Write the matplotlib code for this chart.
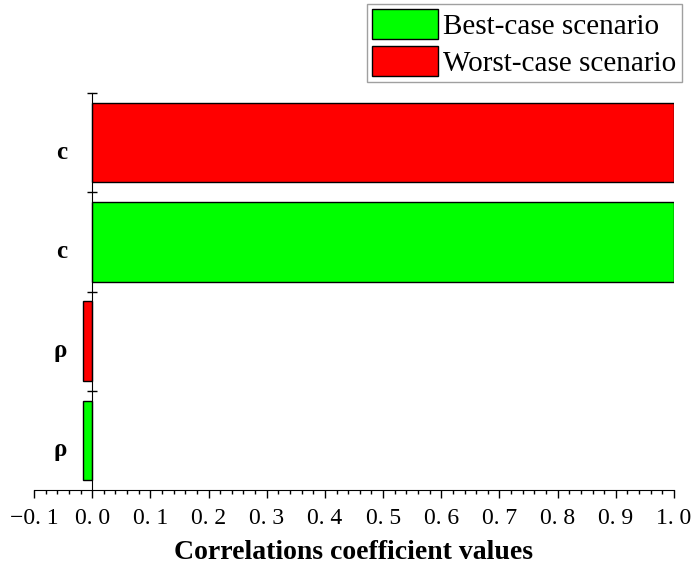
import numpy as np
import matplotlib.pyplot as plt
import matplotlib.ticker as mtick
from matplotlib.patches import Patch

params = ['ρ', 'c']
best_case = [-0.016, 1.0]
worst_case = [-0.016, 1.0]
labels = ['Best-case scenario', 'Worst-case scenario']
colors = ['#00ff00', '#ff0000']

plt.rcParams['font.family'] = ['Liberation Serif', 'DejaVu Serif']

fig = plt.figure(figsize=(6.92, 5.69), dpi=100)
ax = fig.add_axes([34 / 692, 1 - 490 / 569, 640 / 692, 397 / 569])

# each parameter gets two rows: best case below, worst case above
pos_best = np.arange(len(params)) * 2 + 0.5
pos_worst = pos_best + 1
ax.barh(pos_best, best_case, height=0.8, color=colors[0], edgecolor='black', linewidth=1)
ax.barh(pos_worst, worst_case, height=0.8, color=colors[1], edgecolor='black', linewidth=1)

ax.set_xlim(-0.1, 1.0)
ax.set_ylim(0, 2 * len(params))

ax.spines['left'].set_position(('data', 0))
ax.spines['top'].set_visible(False)
ax.spines['right'].set_visible(False)

ypos = np.sort(np.concatenate([pos_best, pos_worst]))
ylabels = [p for p in params for _ in range(2)]
ax.set_yticks(ypos - 0.07)
ax.set_yticklabels(ylabels, fontweight='bold', fontsize=18)
ax.yaxis.set_minor_locator(mtick.FixedLocator(np.arange(1, 2 * len(params) + 1)))
ax.tick_params(axis='y', which='major', length=0, pad=18)
ax.tick_params(axis='y', which='minor', direction='inout', length=7, width=1)

ax.set_xticks(np.arange(-0.1, 1.01, 0.1))
ax.xaxis.set_major_formatter(mtick.FuncFormatter(lambda v, p: ('%.1f' % v).replace('-', '\u2212').replace('.', '. ')))
ax.xaxis.set_minor_locator(mtick.MultipleLocator(0.02))
ax.tick_params(axis='x', which='major', direction='out', length=6, width=1, labelsize=17, pad=7)
ax.tick_params(axis='x', which='minor', direction='out', length=3, width=1)

ax.set_xlabel('Correlations coefficient values', fontsize=20, fontweight='bold', labelpad=8)

handles = [Patch(facecolor=c, edgecolor='black', linewidth=1) for c in colors]
leg = fig.legend(handles, labels, loc='upper right', bbox_to_anchor=(682 / 692, 1 - 4 / 569),
                 fontsize=21, frameon=True, fancybox=False, handlelength=2.25, handleheight=1.2,
                 handletextpad=0.2, borderpad=0.18, labelspacing=0.22, borderaxespad=0)
leg.get_frame().set_edgecolor('#888888')
leg.get_frame().set_linewidth(1)

fig.savefig('out.png', dpi=100)
